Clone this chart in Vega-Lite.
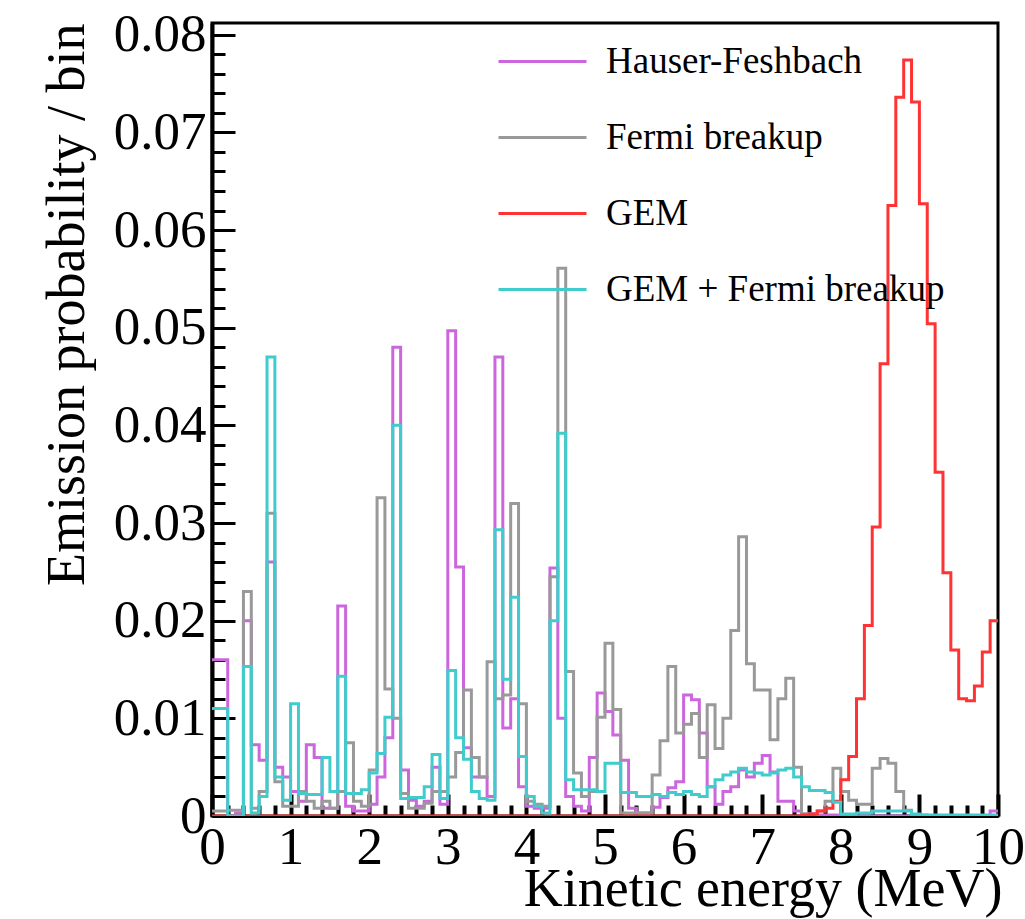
{
"$schema": "https://vega.github.io/schema/vega-lite/v6.json",
"width": 786, "height": 793,
"autosize": {"type": "none"},
"padding": {"left": 212, "top": 23, "right": 27, "bottom": 103},
"background": "white",
"config": {"view": {"stroke": "black", "strokeWidth": 3}, "font": "Liberation Serif"},
"data": {"values": [
{"E":0.0,"HF":0.016,"FB":0.0005,"GEM":0,"GF":0.011},
{"E":0.1,"HF":0.016,"FB":0.0005,"GEM":0,"GF":0.011},
{"E":0.2,"HF":0.0,"FB":0.0006,"GEM":0,"GF":0.0},
{"E":0.3,"HF":0.0003,"FB":0.0006,"GEM":0,"GF":0.0},
{"E":0.4,"HF":0.020,"FB":0.023,"GEM":0,"GF":0.0153},
{"E":0.5,"HF":0.0073,"FB":0.0008,"GEM":0,"GF":0.0003},
{"E":0.6,"HF":0.0057,"FB":0.0025,"GEM":0,"GF":0.002},
{"E":0.7,"HF":0.026,"FB":0.031,"GEM":0,"GF":0.047},
{"E":0.8,"HF":0.005,"FB":0.0035,"GEM":0,"GF":0.004},
{"E":0.9,"HF":0.004,"FB":0.001,"GEM":0,"GF":0.0016},
{"E":1.0,"HF":0.0025,"FB":0.001,"GEM":0,"GF":0.0115},
{"E":1.1,"HF":0.0015,"FB":0.0025,"GEM":0,"GF":0.0023},
{"E":1.2,"HF":0.0073,"FB":0.0015,"GEM":0,"GF":0.0022},
{"E":1.3,"HF":0.006,"FB":0.0008,"GEM":0,"GF":0.0022},
{"E":1.4,"HF":0.0008,"FB":0.0015,"GEM":0,"GF":0.006},
{"E":1.5,"HF":0.0008,"FB":0.0008,"GEM":0,"GF":0.0025},
{"E":1.6,"HF":0.0215,"FB":0.0025,"GEM":0,"GF":0.0143},
{"E":1.7,"HF":0.001,"FB":0.0075,"GEM":0,"GF":0.0023},
{"E":1.8,"HF":0.0005,"FB":0.0015,"GEM":0,"GF":0.0023},
{"E":1.9,"HF":0.0005,"FB":0.001,"GEM":0,"GF":0.0027},
{"E":2.0,"HF":0.0012,"FB":0.0047,"GEM":0,"GF":0.0044},
{"E":2.1,"HF":0.004,"FB":0.0326,"GEM":0,"GF":0.0064},
{"E":2.2,"HF":0.008,"FB":0.013,"GEM":0,"GF":0.0101},
{"E":2.3,"HF":0.048,"FB":0.01,"GEM":0,"GF":0.04},
{"E":2.4,"HF":0.0047,"FB":0.0023,"GEM":0,"GF":0.0018},
{"E":2.5,"HF":0.0016,"FB":0.0008,"GEM":0,"GF":0.0019},
{"E":2.6,"HF":0.001,"FB":0.0008,"GEM":0,"GF":0.0019},
{"E":2.7,"HF":0.0015,"FB":0.0013,"GEM":0,"GF":0.003},
{"E":2.8,"HF":0.005,"FB":0.0025,"GEM":0,"GF":0.0063},
{"E":2.9,"HF":0.0012,"FB":0.0025,"GEM":0,"GF":0.0018},
{"E":3.0,"HF":0.0497,"FB":0.004,"GEM":0,"GF":0.0149},
{"E":3.1,"HF":0.0255,"FB":0.0065,"GEM":0,"GF":0.008},
{"E":3.2,"HF":0.007,"FB":0.0129,"GEM":0,"GF":0.0058},
{"E":3.3,"HF":0.004,"FB":0.006,"GEM":0,"GF":0.0025},
{"E":3.4,"HF":0.004,"FB":0.004,"GEM":0,"GF":0.0018},
{"E":3.5,"HF":0.002,"FB":0.0158,"GEM":0,"GF":0.0016},
{"E":3.6,"HF":0.047,"FB":0.012,"GEM":0,"GF":0.0293},
{"E":3.7,"HF":0.009,"FB":0.0124,"GEM":0,"GF":0.014},
{"E":3.8,"HF":0.012,"FB":0.032,"GEM":0,"GF":0.0224},
{"E":3.9,"HF":0.003,"FB":0.0115,"GEM":0,"GF":0.0061},
{"E":4.0,"HF":0.001,"FB":0.0015,"GEM":0,"GF":0.002},
{"E":4.1,"HF":0.0008,"FB":0.0012,"GEM":0,"GF":0.001},
{"E":4.2,"HF":0.0008,"FB":0.001,"GEM":0,"GF":0.0003},
{"E":4.3,"HF":0.0254,"FB":0.0245,"GEM":0,"GF":0.02},
{"E":4.4,"HF":0.01,"FB":0.0561,"GEM":0,"GF":0.0392},
{"E":4.5,"HF":0.002,"FB":0.0148,"GEM":0,"GF":0.0037},
{"E":4.6,"HF":0.001,"FB":0.0044,"GEM":0,"GF":0.0027},
{"E":4.7,"HF":0.0005,"FB":0.002,"GEM":0,"GF":0.0027},
{"E":4.8,"HF":0.006,"FB":0.0025,"GEM":0,"GF":0.0027},
{"E":4.9,"HF":0.0126,"FB":0.0101,"GEM":0,"GF":0.0025},
{"E":5.0,"HF":0.0107,"FB":0.0177,"GEM":0,"GF":0.0054},
{"E":5.1,"HF":0.0083,"FB":0.0109,"GEM":0,"GF":0.0054},
{"E":5.2,"HF":0.0057,"FB":0.0003,"GEM":0,"GF":0.0024},
{"E":5.3,"HF":0.0008,"FB":0.0003,"GEM":0,"GF":0.0024},
{"E":5.4,"HF":0.0003,"FB":0.0003,"GEM":0,"GF":0.002},
{"E":5.5,"HF":0.0003,"FB":0.0003,"GEM":0,"GF":0.002},
{"E":5.6,"HF":0.0009,"FB":0.0042,"GEM":0,"GF":0.0022},
{"E":5.7,"HF":0.0019,"FB":0.0077,"GEM":0,"GF":0.002},
{"E":5.8,"HF":0.0029,"FB":0.0153,"GEM":0,"GF":0.0024},
{"E":5.9,"HF":0.0035,"FB":0.0085,"GEM":0,"GF":0.0022},
{"E":6.0,"HF":0.0124,"FB":0.0094,"GEM":0,"GF":0.0025},
{"E":6.1,"HF":0.0119,"FB":0.0105,"GEM":0,"GF":0.0022},
{"E":6.2,"HF":0.0085,"FB":0.006,"GEM":0,"GF":0.002},
{"E":6.3,"HF":0.003,"FB":0.0114,"GEM":0,"GF":0.003},
{"E":6.4,"HF":0.0012,"FB":0.0069,"GEM":0,"GF":0.0037},
{"E":6.5,"HF":0.0025,"FB":0.01,"GEM":0,"GF":0.0042},
{"E":6.6,"HF":0.003,"FB":0.019,"GEM":0,"GF":0.0045},
{"E":6.7,"HF":0.0047,"FB":0.0286,"GEM":0,"GF":0.0049},
{"E":6.8,"HF":0.004,"FB":0.0156,"GEM":0,"GF":0.0045},
{"E":6.9,"HF":0.0054,"FB":0.0129,"GEM":0,"GF":0.0044},
{"E":7.0,"HF":0.0062,"FB":0.0129,"GEM":0,"GF":0.0042},
{"E":7.1,"HF":0.0045,"FB":0.0078,"GEM":0,"GF":0.0044},
{"E":7.2,"HF":0.0015,"FB":0.012,"GEM":0,"GF":0.0047},
{"E":7.3,"HF":0.0015,"FB":0.0141,"GEM":0,"GF":0.0049},
{"E":7.4,"HF":0.0005,"FB":0.005,"GEM":0,"GF":0.004},
{"E":7.5,"HF":0.0002,"FB":0.0002,"GEM":0.0001,"GF":0.003},
{"E":7.6,"HF":0.0002,"FB":0.0002,"GEM":0.0002,"GF":0.0026},
{"E":7.7,"HF":0.0001,"FB":0.0005,"GEM":0.0005,"GF":0.0026},
{"E":7.8,"HF":0.0001,"FB":0.0015,"GEM":0.0008,"GF":0.0024},
{"E":7.9,"HF":0.0001,"FB":0.0049,"GEM":0.0015,"GF":0.0014},
{"E":8.0,"HF":0,"FB":0.0025,"GEM":0.0037,"GF":0.0002},
{"E":8.1,"HF":0,"FB":0.0016,"GEM":0.0061,"GF":0.0002},
{"E":8.2,"HF":0,"FB":0.0012,"GEM":0.012,"GF":0.0003},
{"E":8.3,"HF":0,"FB":0.0012,"GEM":0.0195,"GF":0.0003},
{"E":8.4,"HF":0,"FB":0.0049,"GEM":0.0296,"GF":0.0005},
{"E":8.5,"HF":0,"FB":0.0059,"GEM":0.0463,"GF":0.0005},
{"E":8.6,"HF":0,"FB":0.0054,"GEM":0.0625,"GF":0.0005},
{"E":8.7,"HF":0,"FB":0.0025,"GEM":0.0736,"GF":0.0005},
{"E":8.8,"HF":0,"FB":0.0006,"GEM":0.0774,"GF":0.0005},
{"E":8.9,"HF":0,"FB":0.0001,"GEM":0.0731,"GF":0.0002},
{"E":9.0,"HF":0,"FB":0.0001,"GEM":0.0627,"GF":0.0001},
{"E":9.1,"HF":0,"FB":0,"GEM":0.0504,"GF":0.0001},
{"E":9.2,"HF":0,"FB":0,"GEM":0.0352,"GF":0.0001},
{"E":9.3,"HF":0,"FB":0,"GEM":0.0249,"GF":0.0001},
{"E":9.4,"HF":0,"FB":0,"GEM":0.017,"GF":0.0001},
{"E":9.5,"HF":0,"FB":0,"GEM":0.012,"GF":0.0001},
{"E":9.6,"HF":0,"FB":0,"GEM":0.0118,"GF":0.0001},
{"E":9.7,"HF":0,"FB":0,"GEM":0.0133,"GF":0.0001},
{"E":9.8,"HF":0,"FB":0,"GEM":0.0168,"GF":0.0001},
{"E":9.9,"HF":0.0005,"FB":0,"GEM":0.02,"GF":0.0001},
{"E":10.0,"HF":0.0005,"FB":0,"GEM":0.02,"GF":0.0001}
]},
"transform": [{"fold": ["HF","FB","GEM","GF"], "as": ["series","p"]}],
"mark": {"type": "line", "interpolate": "step-after", "strokeWidth": 3, "clip": true},
"encoding": {
"x": {"field": "E", "type": "quantitative",
 "scale": {"domain": [0,10], "nice": false, "zero": false},
 "axis": {"title": "Kinetic energy (MeV)",
  "values": [0,0.2,0.4,0.6,0.8,1,1.2,1.4,1.6,1.8,2,2.2,2.4,2.6,2.8,3,3.2,3.4,3.6,3.8,4,4.2,4.4,4.6,4.8,5,5.2,5.4,5.6,5.8,6,6.2,6.4,6.6,6.8,7,7.2,7.4,7.6,7.8,8,8.2,8.4,8.6,8.8,9,9.2,9.4,9.6,9.8,10],
  "labelExpr": "abs(datum.value - round(datum.value)) < 0.001 ? format(datum.value, 'd') : ''",
  "labelFlush": false, "labelOverlap": false, "labelBound": false,
  "labelFont": "Liberation Serif", "labelFontSize": 53, "labelColor": "black", "labelPadding": 27,
  "ticks": true, "tickSize": {"expr": "abs(datum.value - round(datum.value)) < 0.001 ? -22 : -11"}, "tickColor": "black", "tickWidth": 4,
  "domainColor": "black", "domainWidth": 3, "grid": false,
  "titleFont": "Liberation Serif", "titleFontSize": 54, "titleFontWeight": "normal", "titleColor": "black",
  "titleAlign": "right", "titleBaseline": "alphabetic", "titleX": 790, "titleY": 89
 }},
"y": {"field": "p", "type": "quantitative",
 "scale": {"domain": [0, 0.0812], "nice": false},
 "axis": {"title": "Emission probability / bin",
  "values": [0,0.002,0.004,0.006,0.008,0.01,0.012,0.014,0.016,0.018,0.02,0.022,0.024,0.026,0.028,0.03,0.032,0.034,0.036,0.038,0.04,0.042,0.044,0.046,0.048,0.05,0.052,0.054,0.056,0.058,0.06,0.062,0.064,0.066,0.068,0.07,0.072,0.074,0.076,0.078,0.08],
  "labelExpr": "round(datum.value*1000) % 10 == 0 ? (datum.value == 0 ? '0' : format(datum.value, '.2f')) : ''",
  "labelOverlap": false, "labelBound": false, "labelFlush": false,
  "labelFont": "Liberation Serif", "labelFontSize": 53, "labelColor": "black", "labelPadding": 29,
  "ticks": true, "tickSize": {"expr": "round(datum.value*1000) % 10 == 0 ? -23 : -13"}, "tickColor": "black", "tickWidth": 3,
  "domainColor": "black", "domainWidth": 4, "grid": false,
  "titleFont": "Liberation Serif", "titleFontSize": 54, "titleFontWeight": "normal", "titleColor": "black",
  "titleAngle": -90, "titleAlign": "right", "titleBaseline": "alphabetic", "titleX": -129, "titleY": 0
 }},
"color": {"field": "series", "type": "nominal",
 "scale": {"domain": ["HF","FB","GEM","GF"], "range": ["#CC66DD","#999999","#FF3333","#40CCCC"]},
 "legend": {"orient": "none", "legendX": 285, "legendY": -7, "title": null,
  "symbolType": "stroke", "symbolSize": 7744, "symbolStrokeWidth": 3,
  "labelFont": "Liberation Serif", "labelFontSize": 37, "labelColor": "black", "labelOffset": 18, "labelLimit": 500,
  "rowPadding": 12, "padding": 0,
  "labelExpr": "datum.label == 'HF' ? 'Hauser-Feshbach' : datum.label == 'FB' ? 'Fermi breakup' : datum.label == 'GEM' ? 'GEM' : 'GEM + Fermi breakup'"}}
}
}
